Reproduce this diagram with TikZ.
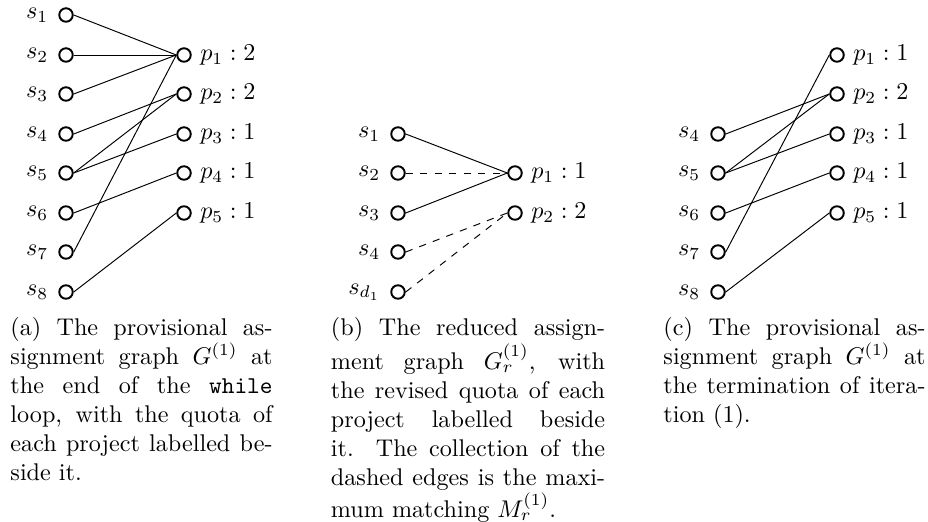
\documentclass[tikz,border=0pt]{standalone}
\begin{document}
\begin{tikzpicture}[x=0.414pt,y=-0.414pt,
  vtx/.style={draw,circle,line width=0.8pt,inner sep=0pt,minimum size=5.6pt},
  sl/.style={label={[label distance=0.6pt]left:#1}},
  pl/.style={label={right:#1}},
  lnk/.style={line width=0.4pt},
  mlnk/.style={lnk,dashed},
  captxt/.style={anchor=north west,inner sep=0pt,align=justify}]
\useasboundingbox (0,0) rectangle (928,522);
% ---------- (a)
\node[vtx,sl={$s_1$}] (a1) at (66,15) {};
\node[vtx,sl={$s_2$}] (a2) at (66,55) {};
\node[vtx,sl={$s_3$}] (a3) at (66,94) {};
\node[vtx,sl={$s_4$}] (a4) at (66,134) {};
\node[vtx,sl={$s_5$}] (a5) at (66,173) {};
\node[vtx,sl={$s_6$}] (a6) at (66,213) {};
\node[vtx,sl={$s_7$}] (a7) at (66,252) {};
\node[vtx,sl={$s_8$}] (a8) at (66,292) {};
\node[vtx,pl={$p_1:2$}] (ap1) at (184,55) {};
\node[vtx,pl={$p_2:2$}] (ap2) at (184,94) {};
\node[vtx,pl={$p_3:1$}] (ap3) at (184,134) {};
\node[vtx,pl={$p_4:1$}] (ap4) at (184,173) {};
\node[vtx,pl={$p_5:1$}] (ap5) at (184,213) {};
\draw[lnk] (a1.east) -- (ap1.west);
\draw[lnk] (a2.east) -- (ap1.west);
\draw[lnk] (a3.east) -- (ap1.west);
\draw[lnk] (a4.east) -- (ap2.west);
\draw[lnk] (a5.east) -- (ap2.west);
\draw[lnk] (a5.east) -- (ap3.west);
\draw[lnk] (a6.east) -- (ap4.west);
\draw[lnk] (a7.east) -- (ap1.west);
\draw[lnk] (a8.east) -- (ap5.west);
\node[captxt,text width=108.5pt] (capa) at (10,317) {(a) The provisional assignment graph $G^{(1)}$ at the end of the \texttt{while} loop, with the quota of each project labelled beside it.};
% ---------- (b)
\node[vtx,sl={$s_1$}] (b1) at (398,134) {};
\node[vtx,sl={$s_2$}] (b2) at (398,173) {};
\node[vtx,sl={$s_3$}] (b3) at (398,213) {};
\node[vtx,sl={$s_4$}] (b4) at (398,252) {};
\node[vtx,sl={$s_{d_1}$}] (b5) at (398,292) {};
\node[vtx,pl={$p_1:1$}] (bp1) at (515,173) {};
\node[vtx,pl={$p_2:2$}] (bp2) at (515,213) {};
\draw[lnk] (b1.east) -- (bp1.west);
\draw[mlnk] (b2.east) -- (bp1.west);
\draw[lnk] (b3.east) -- (bp1.west);
\draw[mlnk] (b4.east) -- (bp2.west);
\draw[mlnk] (b5.east) -- (bp2.west);
\node[captxt,text width=113.5pt] (capb) at (330.5,317) {(b) The reduced assignment graph $G_r^{(1)}$, with the revised quota of each project labelled beside it. The collection of the\linebreak{} dashed edges is the maxi-\linebreak{}mum matching $M_r^{(1)}$.};
% ---------- (c)
\node[vtx,sl={$s_4$}] (c4) at (718,134) {};
\node[vtx,sl={$s_5$}] (c5) at (718,173) {};
\node[vtx,sl={$s_6$}] (c6) at (718,213) {};
\node[vtx,sl={$s_7$}] (c7) at (718,252) {};
\node[vtx,sl={$s_8$}] (c8) at (718,292) {};
\node[vtx,pl={$p_1:1$}] (cp1) at (837,55) {};
\node[vtx,pl={$p_2:2$}] (cp2) at (837,94) {};
\node[vtx,pl={$p_3:1$}] (cp3) at (837,134) {};
\node[vtx,pl={$p_4:1$}] (cp4) at (837,173) {};
\node[vtx,pl={$p_5:1$}] (cp5) at (837,213) {};
\draw[lnk] (c4.east) -- (cp2.west);
\draw[lnk] (c5.east) -- (cp2.west);
\draw[lnk] (c5.east) -- (cp3.west);
\draw[lnk] (c6.east) -- (cp4.west);
\draw[lnk] (c7.east) -- (cp1.west);
\draw[lnk] (c8.east) -- (cp5.west);
\node[captxt,text width=108.5pt] (capc) at (663,317) {(c) The provisional assignment graph $G^{(1)}$ at the termination of iteration (1).};
\end{tikzpicture}
\end{document}
